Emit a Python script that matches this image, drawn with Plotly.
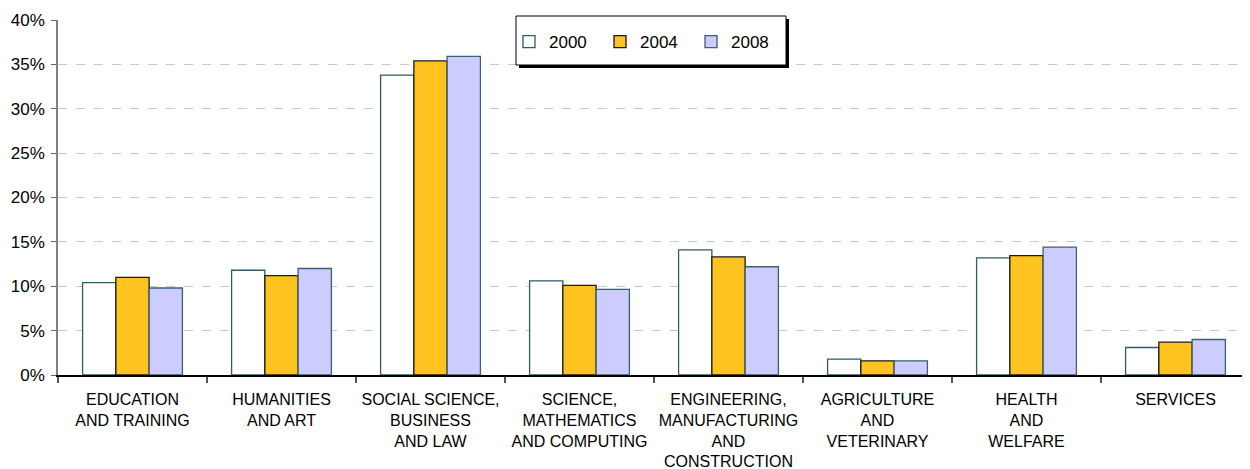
import plotly.graph_objects as go

categories = [
    "EDUCATION<br>AND TRAINING",
    "HUMANITIES<br>AND ART",
    "SOCIAL SCIENCE,<br>BUSINESS<br>AND LAW",
    "SCIENCE,<br>MATHEMATICS<br>AND COMPUTING",
    "ENGINEERING,<br>MANUFACTURING<br>AND<br>CONSTRUCTION",
    "AGRICULTURE<br>AND<br>VETERINARY",
    "HEALTH<br>AND<br>WELFARE",
    "SERVICES",
]
v2000 = [10.4, 11.8, 33.8, 10.6, 14.1, 1.8, 13.2, 3.1]
v2004 = [11.0, 11.2, 35.4, 10.1, 13.3, 1.6, 13.45, 3.7]
v2008 = [9.8, 12.0, 35.9, 9.65, 12.2, 1.6, 14.4, 4.0]
series_names = ["2000", "2004", "2008"]
tick_vals = [0, 5, 10, 15, 20, 25, 30, 35, 40]
tick_text = ["0%", "5%", "10%", "15%", "20%", "25%", "30%", "35%", "40%"]

# page body has an 8px margin in the browser
OFF = 8
W, H = 1250 - OFF, 469 - OFF
L, R, T, B = 58 - OFF, 0, 20 - OFF, 94
PW, PH = W - L - R, H - T - B

def px_x(x):  # screen px -> paper
    return (x - OFF - L) / PW

def px_y(y):
    return (H - B - (y - OFF)) / PH

fills = ["#FFFFFF", "#FDC41F", "#CCCCFF"]
lines = ["#2E5B68", "#1A1A1A", "#3B6070"]

fig = go.Figure()
for name, vals, fc, lc in zip(series_names, [v2000, v2004, v2008], fills, lines):
    fig.add_trace(go.Bar(
        x=categories, y=vals, name=name,
        marker=dict(color=fc, line=dict(color=lc, width=1.3)),
    ))

FONT = "Liberation Sans, Arial, sans-serif"
FS = 17

# legend box with shadow
fig.add_shape(type="rect", xref="paper", yref="paper",
              x0=px_x(519), x1=px_x(789), y0=px_y(68), y1=px_y(19),
              fillcolor="#000000", line=dict(width=0), layer="above")
fig.add_shape(type="rect", xref="paper", yref="paper",
              x0=px_x(516), x1=px_x(786), y0=px_y(65), y1=px_y(16),
              fillcolor="#FFFFFF", line=dict(color="#000000", width=1), layer="above")

fig.update_layout(
    width=W, height=H,
    margin=dict(l=L, r=R, t=T, b=B, pad=0, autoexpand=False),
    paper_bgcolor="white", plot_bgcolor="white",
    font=dict(family=FONT, size=FS, color="#000000"),
    barmode="group", bargap=0.33, bargroupgap=0,
    showlegend=True,
    legend=dict(
        orientation="h", x=px_x(509), xanchor="left", y=px_y(42), yanchor="middle",
        bgcolor="rgba(0,0,0,0)", borderwidth=0,
        font=dict(family=FONT, size=FS, color="#000000"),
        itemwidth=30, entrywidth=46, entrywidthmode="pixels",
        traceorder="normal",
    ),
    xaxis=dict(
        type="category", showline=True, linecolor="#000000", linewidth=1.5,
        ticks="outside", tickson="boundaries", ticklen=6, tickcolor="#555555",
        tickwidth=1.5, showgrid=False, tickfont=dict(size=16),
        tickangle=0, automargin=False, ticklabelstandoff=9,
        range=[-0.5, 7.5],
    ),
    yaxis=dict(
        range=[0, 40], tickvals=tick_vals, ticktext=tick_text,
        showline=True, linecolor="#808080", linewidth=1.5,
        ticks="outside", ticklen=5, tickcolor="#666666",
        showgrid=True, gridcolor="#C8C8C8", griddash="dash", gridwidth=1,
        zeroline=False, tickfont=dict(size=FS), automargin=False,
        ticklabelstandoff=3,
    ),
)

fig.write_html("out.html")
